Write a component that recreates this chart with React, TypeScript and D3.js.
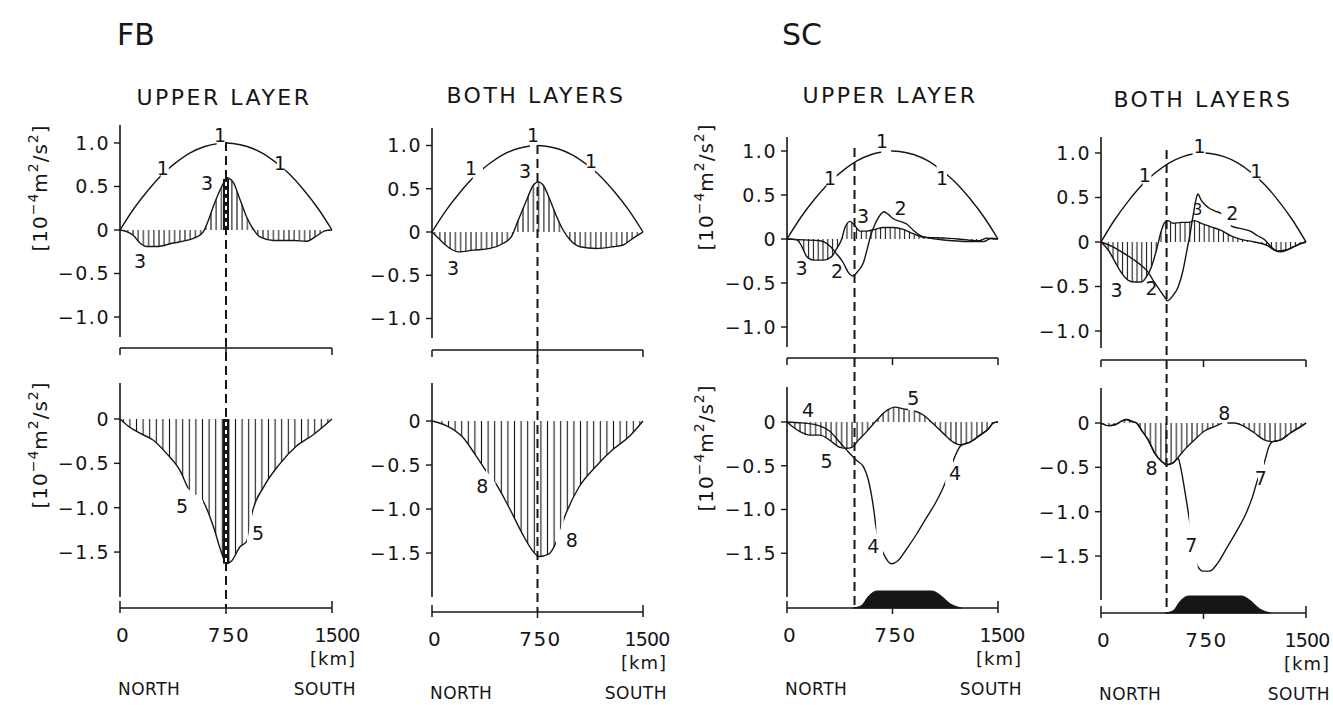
import React from "react";
import * as d3 from "d3";

// ---------------- data (km along section, value in 10^-4 m^2/s^2) ----------------
const xTicks = [0, 750, 1500];
const xTickLabels = ["0", "750", "1500"];
const yTicksUpper = [1, 0.5, 0, -0.5, -1];
const yTickLabelsUpper = ["1.0", "0.5", "0", "\u22120.5", "\u22121.0"];
const yTicksLower = [0, -0.5, -1, -1.5];
const yTickLabelsLower = ["0", "\u22120.5", "\u22121.0", "\u22121.5"];

const curve1Km = [0, 100, 200, 300, 400, 500, 600, 700, 750, 800, 900, 1000, 1100, 1200, 1300, 1400, 1500];
const curve1Val = [0, 0.25, 0.46, 0.64, 0.78, 0.89, 0.96, 0.995, 1.0, 0.995, 0.96, 0.89, 0.78, 0.64, 0.46, 0.25, 0];

// FB upper layer
const fbUpperC3Km = [0, 50, 94, 141, 189, 259, 377, 472, 543, 590, 625, 660, 708, 743, 755, 800, 849, 896, 943, 991, 1085, 1227, 1321, 1380, 1450, 1500];
const fbUpperC3Val = [0, -0.02, -0.06, -0.15, -0.19, -0.19, -0.15, -0.12, -0.08, -0.02, 0.11, 0.27, 0.46, 0.57, 0.6, 0.55, 0.35, 0.15, 0.01, -0.08, -0.12, -0.12, -0.13, -0.08, -0.01, 0];
const fbUpperC5Km = [0, 50, 141, 236, 330, 424, 483, 590, 660, 719, 750, 790, 849, 896, 936, 1019, 1123, 1245, 1365, 1486, 1500];
const fbUpperC5Val = [0, -0.07, -0.16, -0.24, -0.39, -0.58, -0.78, -0.93, -1.21, -1.51, -1.63, -1.6, -1.44, -1.38, -1.05, -0.76, -0.52, -0.31, -0.18, -0.02, 0];

// FB both layers
const fbBothC3Km = [0, 57, 128, 187, 294, 412, 507, 566, 614, 673, 720, 756, 791, 839, 886, 933, 981, 1052, 1170, 1289, 1360, 1431, 1490, 1500];
const fbBothC3Val = [0, -0.09, -0.19, -0.23, -0.21, -0.19, -0.13, -0.05, 0.14, 0.37, 0.54, 0.58, 0.54, 0.37, 0.18, 0.02, -0.09, -0.17, -0.19, -0.17, -0.15, -0.07, -0.01, 0];
const fbBothC8Km = [0, 97, 216, 311, 382, 453, 547, 642, 713, 760, 832, 879, 938, 1045, 1163, 1281, 1400, 1500];
const fbBothC8Val = [0, -0.05, -0.18, -0.39, -0.56, -0.71, -0.98, -1.28, -1.47, -1.54, -1.51, -1.39, -1.11, -0.75, -0.52, -0.33, -0.18, 0];

// SC upper layer
const scUpperC3Km = [0, 69, 104, 140, 187, 258, 317, 353, 389, 412, 448, 483, 519, 566, 626, 685, 756, 827, 898, 969, 1135, 1277, 1372, 1419, 1467, 1500];
const scUpperC3Val = [0, -0.01, -0.08, -0.2, -0.24, -0.24, -0.2, -0.11, 0, 0.13, 0.2, 0.15, 0.09, 0.09, 0.11, 0.13, 0.13, 0.11, 0.06, 0.02, 0.01, -0.01, -0.02, 0.01, 0, 0];
const scUpperC2Km = [0, 120, 234, 305, 353, 400, 436, 467, 507, 543, 571, 595, 626, 661, 690, 720, 756, 803, 851, 898, 945, 1016, 1182, 1324, 1396, 1455, 1500];
const scUpperC2Val = [0, -0.01, -0.02, -0.08, -0.17, -0.27, -0.38, -0.42, -0.36, -0.27, -0.11, 0.04, 0.17, 0.27, 0.31, 0.28, 0.23, 0.2, 0.17, 0.1, 0.04, 0.01, -0.02, -0.03, -0.03, 0.01, 0];
const scUpperC5Km = [0, 45, 92, 163, 234, 305, 377, 424, 460, 507, 566, 637, 708, 768, 827, 898, 969, 1040, 1111, 1182, 1230, 1301, 1372, 1431, 1467, 1500];
const scUpperC5Val = [0, -0.06, -0.11, -0.15, -0.15, -0.21, -0.29, -0.3, -0.29, -0.21, -0.11, 0.02, 0.13, 0.17, 0.15, 0.13, 0.08, -0.02, -0.13, -0.23, -0.26, -0.23, -0.15, -0.08, -0.01, 0];
const scUpperC4Km = [0, 100, 200, 300, 380, 430, 495, 543, 578, 614, 633, 660, 685, 744, 792, 851, 922, 993, 1064, 1123, 1150, 1182, 1230, 1260, 1301, 1372, 1431, 1467, 1500];
const scUpperC4Val = [0, -0.01, -0.03, -0.1, -0.24, -0.33, -0.44, -0.51, -0.66, -0.97, -1.2, -1.4, -1.5, -1.62, -1.58, -1.45, -1.28, -1.09, -0.9, -0.7, -0.58, -0.44, -0.28, -0.25, -0.23, -0.15, -0.08, -0.01, 0];

// SC both layers
const scBothC3Km = [0, 53, 102, 138, 199, 248, 296, 333, 369, 406, 442, 466, 490, 527, 587, 636, 684, 733, 806, 879, 951, 1024, 1121, 1218, 1267, 1316, 1389, 1474, 1500];
const scBothC3Val = [0, -0.09, -0.22, -0.32, -0.43, -0.45, -0.45, -0.39, -0.28, -0.09, 0.13, 0.22, 0.24, 0.21, 0.22, 0.22, 0.24, 0.21, 0.17, 0.13, 0.07, 0.03, 0, -0.04, -0.09, -0.11, -0.07, -0.01, 0];
const scBothC2Km = [0, 80, 160, 240, 300, 340, 381, 430, 466, 486, 527, 563, 600, 624, 648, 672, 697, 709, 733, 782, 830, 879, 951, 1024, 1097, 1146, 1194, 1243, 1291, 1352, 1413, 1461, 1500];
const scBothC2Val = [0, -0.05, -0.12, -0.2, -0.27, -0.33, -0.43, -0.54, -0.62, -0.66, -0.6, -0.51, -0.32, -0.13, 0.06, 0.28, 0.49, 0.54, 0.47, 0.39, 0.35, 0.32, 0.18, 0.15, 0.12, 0.07, 0.03, -0.05, -0.1, -0.09, -0.05, -0.02, 0];
const scBothC8Km = [0, 53, 102, 150, 187, 223, 260, 296, 345, 393, 442, 478, 527, 563, 612, 685, 757, 830, 903, 976, 1049, 1121, 1194, 1255, 1315, 1388, 1461, 1500];
const scBothC8Val = [0, -0.03, -0.02, 0.02, 0.04, 0.02, 0, -0.08, -0.19, -0.34, -0.43, -0.47, -0.45, -0.39, -0.3, -0.19, -0.09, -0.04, 0, 0, -0.04, -0.11, -0.19, -0.21, -0.19, -0.11, -0.04, 0];
const scBothC7Km = [0, 53, 102, 150, 187, 223, 260, 296, 345, 393, 442, 478, 527, 565, 580, 600, 620, 643, 675, 709, 745, 794, 854, 927, 1000, 1061, 1109, 1146, 1170, 1194, 1231, 1255, 1315, 1388, 1461, 1500];
const scBothC7Val = [0, -0.03, -0.02, 0.02, 0.04, 0.02, 0, -0.08, -0.19, -0.34, -0.43, -0.47, -0.45, -0.4, -0.48, -0.64, -0.83, -1.05, -1.4, -1.62, -1.67, -1.67, -1.58, -1.39, -1.2, -1.02, -0.83, -0.64, -0.55, -0.45, -0.26, -0.21, -0.19, -0.11, -0.04, 0];

// bottom topography (relative height)
const topoKm = [470, 530, 580, 640, 1030, 1090, 1160, 1240];
const topoH = [0, 0.15, 0.7, 1, 1, 0.75, 0.25, 0];

// ---------------- layout ----------------
const W = 1333;
const H = 705;
const FONT = "'DejaVu Sans', sans-serif";
const INK = "#161616";

type Pt = [number, number];
type Curve = { km: number[]; val: number[]; gaps?: [number, number][]; hatch?: boolean };
type Lab = { t: string; km: number; v: number; size?: number };
type Row = {
  zero: number; unit: number; axisTop: number; axisBot: number; bracket: number;
  upper: boolean; curves: Curve[]; labels: Lab[]; hatchSp: number; chain?: boolean; topo?: boolean;
};
type Col = {
  x0: number; x1: number; dashKm: number; dashTop: number; title: string; titleX: number; titleY: number;
  yLabelX?: number; yLabelUpperY?: number; yLabelLowerY?: number; endLabelDx: number; upper: Row; lower: Row;
};

const cols: Col[] = [
  {
    x0: 120, x1: 332, dashKm: 750, dashTop: 142, title: "UPPER LAYER", titleX: 224, titleY: 105,
    yLabelX: 47, yLabelUpperY: 188, yLabelLowerY: 445, endLabelDx: 5,
    upper: {
      zero: 230, unit: 87, axisTop: 125, axisBot: 337, bracket: 348, upper: true, hatchSp: 5.2, chain: true,
      curves: [
        { km: curve1Km, val: curve1Val, gaps: [[288, 345], [684, 752], [1110, 1165]] },
        { km: fbUpperC3Km, val: fbUpperC3Val, hatch: true },
      ],
      labels: [
        { t: "1", km: 302, v: 0.63 }, { t: "1", km: 708, v: 1.01 }, { t: "1", km: 1132, v: 0.69 },
        { t: "3", km: 141, v: -0.44 }, { t: "3", km: 616, v: 0.46 },
      ],
    },
    lower: {
      zero: 419, unit: 88.7, axisTop: 383, axisBot: 597, bracket: 608, upper: false, hatchSp: 6.6, chain: true,
      curves: [{ km: fbUpperC5Km, val: fbUpperC5Val, hatch: true, gaps: [[485, 588], [898, 934]] }],
      labels: [{ t: "5", km: 439, v: -1.06 }, { t: "5", km: 976, v: -1.36 }],
    },
  },
  {
    x0: 432, x1: 643, dashKm: 750, dashTop: 145, title: "BOTH LAYERS", titleX: 536, titleY: 103, endLabelDx: 4,
    upper: {
      zero: 232, unit: 86.5, axisTop: 128, axisBot: 338, bracket: 350, upper: true, hatchSp: 5.2,
      curves: [
        { km: curve1Km, val: curve1Val, gaps: [[290, 363], [697, 752], [1100, 1158]] },
        { km: fbBothC3Km, val: fbBothC3Val, hatch: true },
      ],
      labels: [
        { t: "1", km: 277, v: 0.66 }, { t: "1", km: 718, v: 1.04 }, { t: "1", km: 1130, v: 0.74 },
        { t: "3", km: 149, v: -0.5 }, { t: "3", km: 661, v: 0.62 },
      ],
    },
    lower: {
      zero: 421, unit: 88, axisTop: 383, axisBot: 597, bracket: 612, upper: false, hatchSp: 6.6,
      curves: [{ km: fbBothC8Km, val: fbBothC8Val, hatch: true, gaps: [[384, 451], [881, 936]] }],
      labels: [{ t: "8", km: 357, v: -0.82 }, { t: "8", km: 993, v: -1.43 }],
    },
  },
  {
    x0: 787, x1: 998, dashKm: 480, dashTop: 148, title: "UPPER LAYER", titleX: 890, titleY: 103,
    yLabelX: 713, yLabelUpperY: 187, yLabelLowerY: 448, endLabelDx: 4,
    upper: {
      zero: 239, unit: 88, axisTop: 137, axisBot: 347, bracket: 358, upper: true, hatchSp: 4.8,
      curves: [
        { km: curve1Km, val: curve1Val, gaps: [[282, 353], [670, 740], [1064, 1137]] },
        { km: scUpperC3Km, val: scUpperC3Val, hatch: true },
        { km: scUpperC2Km, val: scUpperC2Val },
      ],
      labels: [
        { t: "1", km: 306, v: 0.61 }, { t: "1", km: 675, v: 1.03 }, { t: "1", km: 1102, v: 0.61 },
        { t: "3", km: 104, v: -0.41 }, { t: "2", km: 355, v: -0.44 }, { t: "3", km: 540, v: 0.18 }, { t: "2", km: 808, v: 0.27 },
      ],
    },
    lower: {
      zero: 422, unit: 87.5, axisTop: 387, axisBot: 597, bracket: 608, upper: false, hatchSp: 5.2, topo: true,
      curves: [
        { km: scUpperC5Km, val: scUpperC5Val, hatch: true, gaps: [[860, 905]] },
        { km: scUpperC4Km, val: scUpperC4Val, gaps: [[635, 683], [1125, 1180]] },
      ],
      labels: [
        { t: "4", km: 149, v: 0.06 }, { t: "5", km: 282, v: -0.53 }, { t: "5", km: 898, v: 0.19 },
        { t: "4", km: 614, v: -1.5 }, { t: "4", km: 1194, v: -0.66 },
      ],
    },
  },
  {
    x0: 1101, x1: 1306, dashKm: 480, dashTop: 150, title: "BOTH LAYERS", titleX: 1203, titleY: 107, endLabelDx: 1,
    upper: {
      zero: 242, unit: 89, axisTop: 137, axisBot: 348, bracket: 360, upper: true, hatchSp: 4.8,
      curves: [
        { km: curve1Km, val: curve1Val, gaps: [[306, 369], [670, 765], [1097, 1158]] },
        { km: scBothC3Km, val: scBothC3Val, hatch: true },
        { km: scBothC2Km, val: scBothC2Val, gaps: [[880, 950]] },
      ],
      labels: [
        { t: "1", km: 320, v: 0.67 }, { t: "1", km: 721, v: 1.0 }, { t: "1", km: 1136, v: 0.72 },
        { t: "3", km: 114, v: -0.62 }, { t: "2", km: 369, v: -0.6 }, { t: "3", km: 706, v: 0.3, size: 15 }, { t: "2", km: 961, v: 0.25 },
      ],
    },
    lower: {
      zero: 423, unit: 88.7, axisTop: 388, axisBot: 600, bracket: 613, upper: false, hatchSp: 5.2, topo: true,
      curves: [
        { km: scBothC8Km, val: scBothC8Val, hatch: true, gaps: [[885, 925]] },
        { km: scBothC7Km, val: scBothC7Val, gaps: [[645, 707], [1148, 1192]] },
      ],
      labels: [
        { t: "8", km: 369, v: -0.59 }, { t: "8", km: 903, v: 0.03 }, { t: "7", km: 660, v: -1.45 }, { t: "7", km: 1170, v: -0.7 },
      ],
    },
  },
];

function intervals(gaps?: [number, number][]): [number, number][] {
  const g = [...(gaps || [])].sort((a, b) => a[0] - b[0]);
  const out: [number, number][] = [];
  let s = -300;
  for (const [a, b] of g) {
    out.push([s, a]);
    s = b;
  }
  out.push([s, 1800]);
  return out;
}

function YLabel({ x, y }: { x: number; y: number }) {
  return (
    <text transform={`translate(${x},${y}) rotate(-90)`} textAnchor="middle" fontFamily={FONT} fontSize={20} fill={INK} letterSpacing={1}>
      [10
      <tspan dy={-9} fontSize={14}>{"\u22124"}</tspan>
      <tspan dy={9}>m</tspan>
      <tspan dy={-9} fontSize={14}>2</tspan>
      <tspan dy={9}>/s</tspan>
      <tspan dy={-9} fontSize={14}>2</tspan>
      <tspan dy={9}>]</tspan>
    </text>
  );
}

function PanelView({ id, col, row }: { id: string; col: Col; row: Row }) {
  const xs = d3.scaleLinear().domain([0, 1500]).range([col.x0, col.x1]);
  const ys = d3.scaleLinear().domain([0, 1]).range([row.zero, row.zero - row.unit]);
  const line = d3.line<Pt>().x((d) => xs(d[0])).y((d) => ys(d[1])).curve(d3.curveMonotoneX);
  const area = d3.area<Pt>().x((d) => xs(d[0])).y0(ys(0)).y1((d) => ys(d[1])).curve(d3.curveMonotoneX);
  const ticks = row.upper ? yTicksUpper : yTicksLower;
  const tickLabels = row.upper ? yTickLabelsUpper : yTickLabelsLower;
  const hatched = row.curves.find((c) => c.hatch);

  const elems: React.ReactNode[] = [];
  const defs: React.ReactNode[] = [];

  defs.push(
    <pattern key="hp" id={`${id}-hatch`} patternUnits="userSpaceOnUse" x={col.x0} y={0} width={row.hatchSp} height={20}>
      <line x1={row.hatchSp / 2} y1={0} x2={row.hatchSp / 2} y2={20} stroke={INK} strokeWidth={1.1} />
    </pattern>
  );

  if (hatched) {
    const pts: Pt[] = hatched.km.map((k, i) => [k, hatched.val[i]]);
    elems.push(<path key="hatch" d={area(pts) || ""} fill={`url(#${id}-hatch)`} stroke="none" />);
  }

  if (row.topo) {
    const tp: Pt[] = topoKm.map((k, i) => [k, topoH[i]]);
    const ta = d3
      .area<Pt>()
      .x((d) => xs(d[0]))
      .y0(row.bracket)
      .y1((d) => row.bracket - d[1] * 17)
      .curve(d3.curveMonotoneX);
    elems.push(<path key="topo" d={ta(tp) || ""} fill={INK} stroke={INK} strokeWidth={1} />);
  }

  row.curves.forEach((c, ci) => {
    const pts: Pt[] = c.km.map((k, i) => [k, c.val[i]]);
    const d = line(pts) || "";
    intervals(c.gaps).forEach(([a, b], ii) => {
      const cid = `${id}-c${ci}-${ii}`;
      const xa = xs(Math.max(a, -300));
      const xb = xs(Math.min(b, 1800));
      defs.push(
        <clipPath key={cid} id={cid}>
          <rect x={xa} y={0} width={Math.max(0, xb - xa)} height={H} />
        </clipPath>
      );
      elems.push(<path key={cid} d={d} fill="none" stroke={INK} strokeWidth={1.4} clipPath={`url(#${cid})`} />);
    });
  });

  if (row.chain && hatched) {
    const f = d3.scaleLinear().domain(hatched.km).range(hatched.val);
    const xc = xs(col.dashKm);
    const ya = ys(0);
    const yb = ys(f(col.dashKm));
    const top = Math.min(ya, yb);
    const bot = Math.max(ya, yb);
    elems.push(<rect key="chain" x={xc - 3} y={top} width={6} height={bot - top} fill={INK} />);
    const holes = d3.range(top + 3, bot - 5, 8);
    holes.forEach((yy, i) =>
      elems.push(<rect key={`hole${i}`} x={xc - 1} y={yy} width={2} height={4} fill="#fff" />)
    );
  }

  elems.push(<line key="yax" x1={col.x0} x2={col.x0} y1={row.axisTop} y2={row.axisBot} stroke={INK} strokeWidth={1.6} />);
  ticks.forEach((t, i) => {
    elems.push(<line key={`yt${i}`} x1={col.x0 - 6} x2={col.x0} y1={ys(t)} y2={ys(t)} stroke={INK} strokeWidth={1.4} />);
    elems.push(
      <text key={`ytl${i}`} x={col.x0 - 10} y={ys(t)} dy="0.36em" textAnchor="end" fontFamily={FONT} fontSize={19} letterSpacing={1.5} fill={INK}>
        {tickLabels[i]}
      </text>
    );
  });

  elems.push(<line key="br" x1={col.x0} x2={col.x1} y1={row.bracket} y2={row.bracket} stroke={INK} strokeWidth={1.6} />);
  xTicks.forEach((t, i) => {
    const x = xs(t);
    const isMid = i === 1;
    let y1: number, y2: number;
    if (row.upper) {
      y1 = row.bracket;
      y2 = row.bracket + 7;
    } else if (isMid) {
      y1 = row.bracket;
      y2 = row.bracket + 6;
    } else {
      y1 = row.bracket - 7;
      y2 = row.bracket + 5;
    }
    elems.push(<line key={`bt${i}`} x1={x} x2={x} y1={y1} y2={y2} stroke={INK} strokeWidth={1.5} />);
  });

  row.labels.forEach((l, i) =>
    elems.push(
      <text key={`lab${i}`} x={xs(l.km)} y={ys(l.v)} textAnchor="middle" fontFamily={FONT} fontSize={l.size || 19} fill={INK}>
        {l.t}
      </text>
    )
  );

  return (
    <g>
      <defs>{defs}</defs>
      {elems}
    </g>
  );
}

function ColumnView({ col, idx }: { col: Col; idx: number }) {
  const xs = d3.scaleLinear().domain([0, 1500]).range([col.x0, col.x1]);
  const xd = xs(col.dashKm);
  const lb = col.lower.bracket;
  return (
    <g>
      <line x1={xd} x2={xd} y1={col.dashTop} y2={lb} stroke={INK} strokeWidth={2} strokeDasharray="9,5" />
      <PanelView id={`p${idx}u`} col={col} row={col.upper} />
      <PanelView id={`p${idx}l`} col={col} row={col.lower} />
      <text x={col.titleX} y={col.titleY} textAnchor="middle" fontFamily={FONT} fontSize={22} letterSpacing={2.5} fill={INK}>
        {col.title}
      </text>
      {col.yLabelX !== undefined && (
        <>
          <YLabel x={col.yLabelX} y={col.yLabelUpperY as number} />
          <YLabel x={col.yLabelX} y={col.yLabelLowerY as number} />
        </>
      )}
      {xTicks.map((t, i) => {
        const isEnd = i === 2;
        return (
          <text
            key={`xl${i}`}
            x={xs(t) + (i === 0 ? 3 : i === 1 ? 3 : col.endLabelDx)}
            y={lb + 34}
            textAnchor="middle"
            fontFamily={FONT}
            fontSize={isEnd ? 19 : 20}
            letterSpacing={isEnd ? -0.8 : 1.5}
            fill={INK}
          >
            {xTickLabels[i]}
          </text>
        );
      })}
      <text x={col.x1 + 24} y={lb + 57} textAnchor="end" fontFamily={FONT} fontSize={18} letterSpacing={1} fill={INK}>
        [km]
      </text>
      <text x={col.x0 - 2} y={lb + 87} textAnchor="start" fontFamily={FONT} fontSize={17} letterSpacing={0.5} fill={INK}>
        NORTH
      </text>
      <text x={col.x1 + 24} y={lb + 87} textAnchor="end" fontFamily={FONT} fontSize={17} letterSpacing={0.5} fill={INK}>
        SOUTH
      </text>
    </g>
  );
}

export default function App() {
  return (
    <svg
      width={W}
      height={H}
      viewBox={`0 0 ${W} ${H}`}
      style={{ position: "absolute", left: 0, top: 0, display: "block", background: "#fff" }}
    >
      <rect x={0} y={0} width={W} height={H} fill="#fff" />
      <text x={117} y={45} fontFamily={FONT} fontSize={30} fill={INK}>FB</text>
      <text x={782} y={45} fontFamily={FONT} fontSize={30} fill={INK}>SC</text>
      {cols.map((c, i) => (
        <ColumnView key={i} col={c} idx={i} />
      ))}
    </svg>
  );
}
